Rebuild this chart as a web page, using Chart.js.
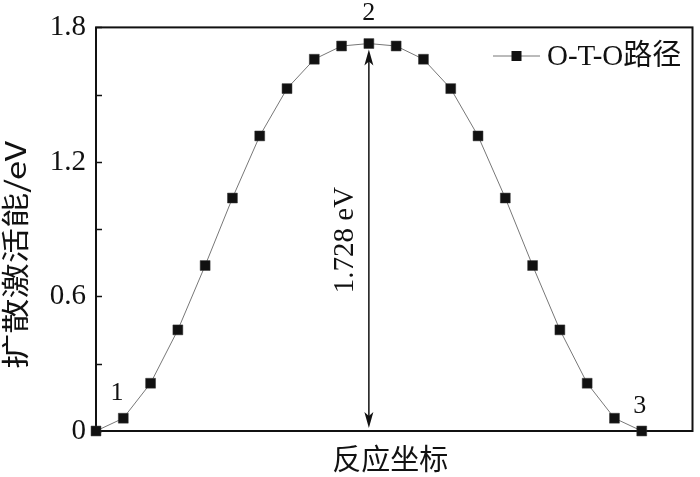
<!DOCTYPE html>
<html>
<head>
<meta charset="utf-8">
<script src="https://cdn.jsdelivr.net/npm/chart.js@4"></script>
<style>
  html, body { margin: 0; padding: 0; background: #fff; }
  #wrap { width: 700px; height: 477px; }
</style>
</head>
<body>
<div id="wrap"><canvas id="chart" width="700" height="477"></canvas></div>
<script>
// reaction coordinate (image index) and diffusion activation energy (eV)
const reactionCoord = [0, 1, 2, 3, 4, 5, 6, 7, 8, 9, 10, 11, 12, 13, 14, 15, 16, 17, 18, 19, 20];
const energy = [0, 0.057, 0.213, 0.451, 0.738, 1.039, 1.316, 1.527, 1.658, 1.717, 1.728,
  1.717, 1.658, 1.527, 1.316, 1.039, 0.738, 0.451, 0.213, 0.057, 0];
const yTickLabels = ["0", "0.6", "1.2", "1.8"];
const seriesName = "O-T-O路径";
const xTitle = "反应坐标";
const yTitle = "扩散激活能/eV";
const barrier = 1.728;
// state labels: [x index, text]
const stateLabels = [[0, "1"], [10, "2"], [20, "3"]];

const FONT = '"Liberation Serif", "Noto Sans CJK SC", serif';

const points = reactionCoord.map((x, i) => ({ x: x, y: energy[i] }));

// draw frame, inner ticks, arrow and text labels
const decor = {
  id: "decor",
  beforeDatasetsDraw(chart) {
    const { ctx, chartArea: a, scales } = chart;
    ctx.save();
    ctx.strokeStyle = "#111";
    ctx.lineWidth = 2;
    ctx.strokeRect(a.left, a.top, a.right - a.left, a.bottom - a.top);
    // inner ticks on y axis
    ctx.lineWidth = 1.5;
    scales.y.ticks.forEach((t) => {
      const py = Math.round(scales.y.getPixelForValue(t.value)) + 0.5;
      ctx.beginPath();
      ctx.moveTo(a.left, py);
      ctx.lineTo(a.left + 6, py);
      ctx.stroke();
    });
    // double arrow for barrier height
    const ax = scales.x.getPixelForValue(10);
    const yTop = scales.y.getPixelForValue(barrier) + 6;
    const yBot = a.bottom - 3;
    ctx.lineWidth = 1.5;
    ctx.beginPath();
    ctx.moveTo(ax, yTop + 10);
    ctx.lineTo(ax, yBot - 10);
    ctx.stroke();
    ctx.fillStyle = "#111";
    const head = (tipY, dir) => {
      ctx.beginPath();
      ctx.moveTo(ax, tipY);
      ctx.lineTo(ax - 4.5, tipY + dir * 16);
      ctx.lineTo(ax, tipY + dir * 12);
      ctx.lineTo(ax + 4.5, tipY + dir * 16);
      ctx.closePath();
      ctx.fill();
    };
    head(yTop, 1);
    head(yBot, -1);
    ctx.restore();
  },
  afterDraw(chart) {
    const { ctx, chartArea: a, scales } = chart;
    ctx.save();
    ctx.fillStyle = "#111";
    ctx.textAlign = "center";
    ctx.textBaseline = "middle";
    ctx.font = "29px " + FONT;
    // axis titles
    ctx.fillText(xTitle, (a.left + a.right) / 2 - 4, 462);
    ctx.save();
    ctx.translate(15, 255);
    ctx.rotate(-Math.PI / 2);
    ctx.font = '28px "Noto Sans CJK SC", "Liberation Sans", sans-serif';
    const w = ctx.measureText(yTitle).width;
    ctx.scale(228 / w, 1);
    ctx.fillText(yTitle, 0, 0);
    ctx.restore();
    // barrier label
    ctx.save();
    ctx.translate(scales.x.getPixelForValue(10) - 23, 240);
    ctx.rotate(-Math.PI / 2);
    ctx.fillText(barrier.toFixed(3) + " eV", 0, 0);
    ctx.restore();
    // state numbers
    ctx.font = "26px " + FONT;
    ctx.fillText(stateLabels[0][1], scales.x.getPixelForValue(stateLabels[0][0]) + 21, 393);
    ctx.fillText(stateLabels[1][1], scales.x.getPixelForValue(stateLabels[1][0]), 13);
    ctx.fillText(stateLabels[2][1], scales.x.getPixelForValue(stateLabels[2][0]) - 2, 406);
    // legend
    const ly = 56;
    ctx.strokeStyle = "#777";
    ctx.lineWidth = 1;
    ctx.beginPath();
    ctx.moveTo(493, ly);
    ctx.lineTo(540, ly);
    ctx.stroke();
    ctx.fillRect(511.5, ly - 5, 10, 10);
    ctx.textAlign = "left";
    ctx.font = "29px " + FONT;
    ctx.fillText(seriesName, 547, ly + 1);
    ctx.restore();
  }
};

new Chart(document.getElementById("chart"), {
  type: "line",
  data: {
    datasets: [{
      label: seriesName,
      data: points,
      borderColor: "#777",
      borderWidth: 1,
      pointStyle: "rect",
      pointRadius: 7,
      pointBackgroundColor: "#111",
      pointBorderColor: "#333",
      pointBorderWidth: 0.5,
      tension: 0,
      clip: false
    }]
  },
  options: {
    responsive: false,
    animation: false,
    events: [],
    layout: { padding: { top: 27, right: 4, left: 0, bottom: 0 } },
    plugins: { legend: { display: false }, tooltip: { enabled: false } },
    scales: {
      x: {
        type: "linear",
        min: 0,
        max: 21.86,
        grid: { display: false },
        border: { display: false },
        ticks: { display: false },
        afterFit: (s) => { s.height = 46; }
      },
      y: {
        min: 0,
        max: 1.8,
        grid: { display: false, drawTicks: false },
        border: { display: false },
        ticks: {
          stepSize: 0.3,
          padding: 10,
          color: "#111",
          font: { family: FONT, size: 29 },
          callback: (v) => {
            const r = Math.round(v * 10);
            return r % 6 === 0 ? yTickLabels[r / 6] : "";
          }
        },
        afterFit: (s) => { s.width = 96; }
      }
    }
  },
  plugins: [decor]
});
</script>
</body>
</html>
